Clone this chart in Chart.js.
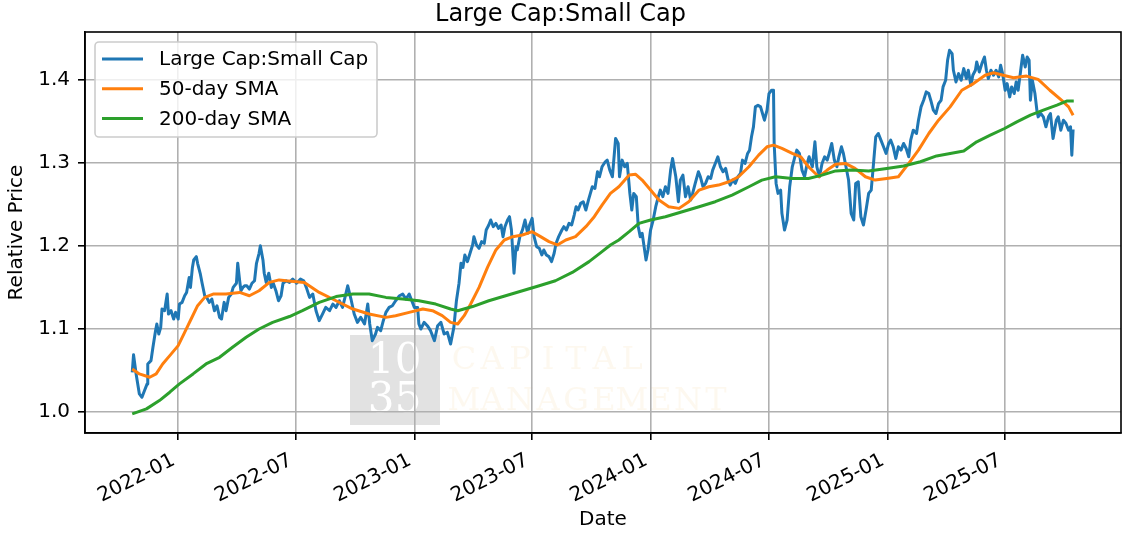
<!DOCTYPE html>
<html lang="en">
<head>
    <meta charset="UTF-8">
    <title>Large Cap:Small Cap</title>
    <script src="https://cdn.jsdelivr.net/npm/chart.js"></script>
    <style>
        body { margin: 0; background: #fff; }
        #wrap { width: 1130px; height: 536px; }
    </style>
</head>
<body>
    <div id="wrap">
        <canvas id="myChart" width="1130" height="536"></canvas>
    </div>

    <script>
        // x values are days counted from 2022-01-01
        var priceDays = [-71, -69, -65, -60, -56, -52, -48, -47, -42, -39, -35, -33, -30, -27, -25, -21, -17, -15, -11, -7, -4,
            0, 2, 6, 10, 13, 17, 19, 22, 24, 28, 30, 34, 37, 41, 44, 48, 52, 56, 60, 64, 67, 71, 74, 78, 82, 85, 90, 92, 95, 97,
            100, 103, 106, 110, 114, 118, 121, 125, 127, 131, 133, 136, 140, 144, 147, 151, 155, 159, 162, 167, 172, 177, 183,
            189, 194, 198, 203, 208, 213, 218, 223, 228, 234, 239, 244, 249, 254, 259, 262, 267, 272, 277, 282, 288, 293, 296,
            300, 305, 308, 313, 317, 321, 326, 331, 336, 342, 347, 352, 357, 361, 365, 370, 372, 375, 380, 385, 390, 396, 401,
            406, 411, 416, 421, 426, 430, 434, 437, 440, 443, 447, 451, 455, 457, 461, 465, 469, 473, 476, 480, 483, 487, 491,
            495, 499, 502, 505, 509, 512, 515, 519, 522, 524, 528, 532, 536, 540, 543, 547, 550, 554, 558, 562, 565, 569, 573,
            577, 581, 584, 588, 593, 596, 600, 604, 608, 612, 615, 618, 622, 626, 630, 634, 637, 640, 644, 648, 651, 655, 660,
            663, 667, 671, 676, 680, 682, 686, 690, 694, 698, 701, 704, 708, 711, 714, 717, 720, 723, 726, 730, 734, 738, 742,
            745, 749, 753, 757, 761, 764, 769, 773, 776, 780, 784, 788, 792, 795, 799, 804, 807, 811, 815, 819, 823, 826, 830,
            834, 838, 842, 846, 850, 853, 857, 861, 865, 869, 872, 876, 880, 883, 886, 889, 892, 896, 900, 903, 906, 910, 913,
            917, 920, 921, 924, 927, 931, 933, 937, 941, 945, 949, 953, 956, 960, 964, 968, 972, 975, 980, 984, 987, 991, 995,
            999, 1003, 1006, 1010, 1014, 1018, 1021, 1025, 1028, 1032, 1036, 1040, 1044, 1047, 1051, 1055, 1059, 1063, 1067,
            1071, 1075, 1078, 1082, 1086, 1090, 1094, 1098, 1101, 1105, 1109, 1113, 1117, 1121, 1125, 1129, 1132, 1136, 1141,
            1144, 1148, 1152, 1156, 1160, 1163, 1167, 1171, 1175, 1179, 1182, 1186, 1189, 1192, 1196, 1198, 1202, 1206, 1210,
            1214, 1218, 1221, 1225, 1228, 1232, 1234, 1238, 1242, 1246, 1249, 1252, 1256, 1260, 1264, 1268, 1271, 1274, 1278,
            1281, 1285, 1288, 1292, 1295, 1298, 1302, 1305, 1309, 1312, 1315, 1317, 1320, 1324, 1327, 1329, 1333, 1337, 1341,
            1345, 1348, 1352, 1357, 1360, 1364, 1368, 1372, 1376, 1379, 1381, 1383];

        var priceRatio = [1.048, 1.069, 1.046, 1.022, 1.018, 1.026, 1.034, 1.058, 1.062, 1.078, 1.098, 1.106, 1.094, 1.102, 1.124, 1.122, 1.142, 1.118, 1.122, 1.112, 1.120,
            1.112, 1.130, 1.132, 1.140, 1.144, 1.162, 1.150, 1.174, 1.183, 1.187, 1.179, 1.167, 1.155, 1.140, 1.138, 1.132, 1.136, 1.122, 1.128, 1.114, 1.112, 1.132, 1.122, 1.138, 1.142, 1.150, 1.155, 1.179, 1.158, 1.146,
            1.150, 1.152, 1.152, 1.148, 1.155, 1.158, 1.179, 1.191, 1.200, 1.183, 1.167, 1.156, 1.167, 1.150, 1.155, 1.146, 1.134, 1.140, 1.155, 1.158, 1.156, 1.160, 1.155,
            1.160, 1.158, 1.150, 1.138, 1.142, 1.122, 1.110, 1.118, 1.126, 1.122, 1.130, 1.126, 1.134, 1.126, 1.142, 1.152, 1.136, 1.118, 1.108, 1.114, 1.106, 1.130, 1.106,
            1.086, 1.094, 1.102, 1.098, 1.110, 1.120, 1.126, 1.128, 1.134, 1.140, 1.142, 1.136, 1.142, 1.134, 1.126, 1.126, 1.106, 1.100, 1.108, 1.104, 1.098, 1.086, 1.104,
            1.108, 1.094, 1.096, 1.082, 1.102, 1.134, 1.155, 1.179, 1.174, 1.189, 1.181, 1.191, 1.201, 1.211, 1.201, 1.197, 1.205, 1.203, 1.219, 1.225, 1.231, 1.223, 1.227,
            1.221, 1.225, 1.211, 1.223, 1.231, 1.235, 1.219, 1.167, 1.199, 1.195, 1.211, 1.219, 1.231, 1.215, 1.225, 1.233, 1.211, 1.199, 1.197, 1.189, 1.195, 1.189, 1.187,
            1.181, 1.191, 1.203, 1.211, 1.219, 1.223, 1.219, 1.227, 1.225, 1.237, 1.247, 1.243, 1.251, 1.253, 1.243, 1.255, 1.263, 1.271, 1.269, 1.289, 1.283, 1.295, 1.301,
            1.303, 1.291, 1.283, 1.329, 1.323, 1.283, 1.303, 1.295, 1.299, 1.263, 1.243, 1.263, 1.259, 1.223, 1.211, 1.215, 1.199, 1.183, 1.195, 1.219, 1.231, 1.247, 1.259,
            1.267, 1.259, 1.271, 1.263, 1.291, 1.305, 1.283, 1.253, 1.279, 1.285, 1.259, 1.271, 1.255, 1.263, 1.275, 1.289, 1.283, 1.271, 1.275, 1.283, 1.281, 1.291, 1.299,
            1.307, 1.295, 1.289, 1.293, 1.279, 1.273, 1.279, 1.275, 1.283, 1.287, 1.303, 1.299, 1.311, 1.315, 1.331, 1.343, 1.367, 1.369, 1.367, 1.359, 1.351, 1.363, 1.383,
            1.387, 1.387, 1.323, 1.275, 1.263, 1.267, 1.239, 1.219, 1.231, 1.271, 1.295, 1.307, 1.315, 1.311, 1.291, 1.283, 1.299, 1.307, 1.295, 1.325, 1.295, 1.283, 1.299,
            1.307, 1.303, 1.311, 1.323, 1.303, 1.295, 1.307, 1.319, 1.311, 1.295, 1.279, 1.239, 1.231, 1.275, 1.277, 1.235, 1.225, 1.243, 1.263,
            1.267, 1.303, 1.331, 1.335, 1.327, 1.319, 1.311, 1.323, 1.327, 1.319, 1.305, 1.319, 1.315, 1.323, 1.317, 1.307, 1.327, 1.339, 1.335,
            1.351, 1.367, 1.375, 1.385, 1.383, 1.375, 1.363, 1.359, 1.371, 1.375, 1.391, 1.399, 1.423, 1.435, 1.431, 1.411, 1.397, 1.407, 1.399,
            1.413, 1.401, 1.411, 1.393, 1.405, 1.411, 1.421, 1.409, 1.419, 1.427, 1.411, 1.401, 1.411, 1.405, 1.411, 1.403, 1.417, 1.407, 1.387,
            1.395, 1.379, 1.391, 1.383, 1.397, 1.387, 1.411, 1.429, 1.415, 1.427, 1.423, 1.375, 1.399, 1.383, 1.363, 1.355, 1.359, 1.355, 1.343,
            1.355, 1.359, 1.329, 1.351, 1.355, 1.339, 1.351, 1.347, 1.339, 1.343, 1.309, 1.340];

        var sma50Days = [-71, -60, -44, -34, -24, -13, 0, 10, 20, 30, 41, 54, 74, 95, 110, 125, 141, 156, 167, 195, 218, 244, 270,
            295, 321, 336, 357, 378, 393, 408, 421, 432, 442, 452, 465, 478, 491, 504, 517, 532, 547, 560, 573, 586, 599, 614,
            630, 643, 655, 668, 681, 697, 707, 717, 730, 743, 758, 774, 789, 805, 820, 835, 851, 866, 882, 897, 910, 920, 933,
            949, 962, 974, 990, 1003, 1016, 1031, 1046, 1062, 1077, 1095, 1113, 1129, 1144, 1160, 1175, 1193, 1211, 1229, 1247,
            1260, 1275, 1291, 1311, 1329, 1347, 1365, 1376, 1383];
        var sma50 = [1.052, 1.046, 1.042, 1.046, 1.058, 1.068, 1.080, 1.096, 1.112, 1.128, 1.138, 1.142, 1.142, 1.144, 1.140, 1.146, 1.156, 1.159, 1.158, 1.156, 1.144, 1.134, 1.124,
            1.118, 1.114, 1.116, 1.120, 1.124, 1.122, 1.116, 1.108, 1.106, 1.116, 1.130, 1.150, 1.174, 1.195, 1.207, 1.211, 1.213, 1.217, 1.211, 1.205, 1.201, 1.207, 1.211,
            1.223, 1.235, 1.249, 1.263, 1.271, 1.285, 1.286, 1.279, 1.267, 1.255, 1.247, 1.245, 1.253, 1.267, 1.271, 1.273, 1.277, 1.283, 1.295, 1.309, 1.319, 1.321, 1.317,
            1.311, 1.307, 1.295, 1.283, 1.291, 1.298, 1.299, 1.293, 1.283, 1.279, 1.281, 1.283, 1.299, 1.315, 1.335, 1.351, 1.367, 1.387, 1.395, 1.405,
            1.408, 1.405, 1.402, 1.404, 1.400, 1.387, 1.375, 1.367, 1.357];

        var sma200Days = [-71, -49, -29, -13, 2, 23, 43, 64, 84, 105, 125, 146, 172, 192, 218, 244, 270, 295, 321, 347, 372, 398,
            421, 432, 455, 480, 506, 532, 558, 583, 609, 635, 655, 668, 681, 697, 712, 730, 753, 779, 805, 830, 856, 882, 902,
            923, 949, 974, 995, 1016, 1041, 1067, 1095, 1121, 1147, 1172, 1193, 1214, 1234, 1255, 1277, 1296, 1317, 1337, 1358,
            1373, 1384];
        var sma200 = [0.998, 1.004, 1.014, 1.024, 1.034, 1.046, 1.058, 1.066, 1.078, 1.090, 1.100, 1.108, 1.115, 1.122, 1.132, 1.139, 1.142, 1.142, 1.138, 1.136, 1.134, 1.130,
            1.124, 1.122, 1.127, 1.134, 1.140, 1.146, 1.152, 1.158, 1.168, 1.181, 1.193, 1.201, 1.207, 1.217, 1.227, 1.231, 1.235, 1.241, 1.247, 1.253, 1.261, 1.271, 1.279,
            1.283, 1.281, 1.281, 1.285, 1.290, 1.291, 1.290, 1.293, 1.296, 1.301, 1.308, 1.311, 1.314, 1.325, 1.333, 1.341, 1.349, 1.357, 1.363, 1.369,
            1.374, 1.374];

        var tickDays = [0, 181, 365, 546, 730, 912, 1096, 1277];
        var tickLabels = ['2022-01', '2022-07', '2023-01', '2023-07', '2024-01', '2024-07', '2025-01', '2025-07'];
        var yTicks = [1.0, 1.1, 1.2, 1.3, 1.4];

        var font = '"DejaVu Sans", sans-serif';

        function toPoints(xs, ys) {
            return xs.map(function (x, i) { return { x: x, y: ys[i] }; });
        }

        // faint logo behind the plot
        var watermark = {
            id: 'watermark',
            beforeDraw: function (chart) {
                var ctx = chart.ctx;
                ctx.save();
                ctx.fillStyle = '#e2e2e2';
                ctx.fillRect(350, 335, 90, 90);
                ctx.fillStyle = '#ffffff';
                ctx.font = '42px "DejaVu Serif", serif';
                ctx.textAlign = 'center';
                ctx.textBaseline = 'middle';
                ['1', '0'].forEach(function (c, i) { ctx.fillText(c, 381 + i * 27, 362); });
                ['3', '5'].forEach(function (c, i) { ctx.fillText(c, 381 + i * 27, 401); });
                ctx.fillStyle = 'rgba(240, 200, 130, 0.13)';
                ctx.font = '32px "DejaVu Serif", serif';
                'CAPITAL'.split('').forEach(function (c, i) { ctx.fillText(c, 464 + i * 28, 361); });
                'MANAGEMENT'.split('').forEach(function (c, i) { ctx.fillText(c, 464 + i * 28, 402); });
                ctx.restore();
            }
        };

        // matplotlib-style frame, date labels and legend
        var frameAndLegend = {
            id: 'frameAndLegend',
            afterDatasetsDraw: function (chart) {
                var ctx = chart.ctx;
                var a = chart.chartArea;
                ctx.save();
                ctx.strokeStyle = '#000';
                ctx.lineWidth = 1.6;
                ctx.strokeRect(a.left, a.top, a.right - a.left, a.bottom - a.top);

                ctx.beginPath();
                ctx.roundRect(95, 42, 282, 95, 4);
                ctx.fillStyle = 'rgba(255,255,255,0.8)';
                ctx.fill();
                ctx.strokeStyle = '#cccccc';
                ctx.lineWidth = 1.6;
                ctx.stroke();

                ctx.font = '20px ' + font;
                ctx.textBaseline = 'middle';
                chart.data.datasets.forEach(function (ds, i) {
                    var y = 59 + i * 29.7;
                    ctx.strokeStyle = ds.borderColor;
                    ctx.lineWidth = 3;
                    ctx.beginPath();
                    ctx.moveTo(102, y);
                    ctx.lineTo(143, y);
                    ctx.stroke();
                    ctx.fillStyle = '#000';
                    ctx.fillText(ds.label, 159, y + 1);
                });
                ctx.restore();
            },
            afterDraw: function (chart) {
                // rotated date labels, right end tucked under each tick
                var ctx = chart.ctx;
                var xs = chart.scales.x;
                ctx.save();
                ctx.font = '20px ' + font;
                ctx.fillStyle = '#000';
                ctx.textAlign = 'right';
                ctx.textBaseline = 'alphabetic';
                tickDays.forEach(function (d, i) {
                    ctx.save();
                    ctx.translate(xs.getPixelForValue(d) - 2, 464);
                    ctx.rotate(-27 * Math.PI / 180);
                    ctx.fillText(tickLabels[i], 0, 0);
                    ctx.restore();
                });
                ctx.restore();
            }
        };

        var ctx = document.getElementById('myChart').getContext('2d');

        var myChart = new Chart(ctx, {
            type: 'line',
            data: {
                datasets: [{
                    label: 'Large Cap:Small Cap',
                    data: toPoints(priceDays, priceRatio),
                    borderColor: '#1f77b4',
                    borderWidth: 3,
                    order: 2
                }, {
                    label: '50-day SMA',
                    data: toPoints(sma50Days, sma50),
                    borderColor: '#ff7f0e',
                    borderWidth: 3,
                    order: 1
                }, {
                    label: '200-day SMA',
                    data: toPoints(sma200Days, sma200),
                    borderColor: '#2ca02c',
                    borderWidth: 3,
                    order: 0
                }]
            },
            options: {
                responsive: false,
                animation: false,
                events: [],
                elements: {
                    point: { radius: 0 },
                    line: { tension: 0, fill: false, borderJoinStyle: 'round' }
                },
                layout: { padding: { left: 0, right: 9, top: 0, bottom: 0 } },
                plugins: {
                    legend: { display: false },
                    tooltip: { enabled: false },
                    title: {
                        display: true,
                        text: 'Large Cap:Small Cap',
                        color: '#000',
                        font: { family: font, size: 24, weight: 'normal' },
                        padding: { top: 0, bottom: 3.2 }
                    }
                },
                scales: {
                    x: {
                        type: 'linear',
                        min: -144,
                        max: 1457,
                        afterBuildTicks: function (scale) {
                            scale.ticks = tickDays.map(function (d) { return { value: d }; });
                        },
                        afterFit: function (scale) { scale.height = 103; },
                        ticks: {
                            autoSkip: false,
                            maxRotation: 30,
                            minRotation: 30,
                            color: 'rgba(0,0,0,0)',
                            font: { family: font, size: 20 },
                            callback: function (value) { return tickLabels[tickDays.indexOf(value)]; }
                        },
                        grid: {
                            color: '#b0b0b0',
                            lineWidth: 1.6,
                            tickColor: '#000',
                            tickLength: 7,
                            tickWidth: 1.6
                        },
                        border: { color: '#000', width: 1.6 },
                        title: {
                            display: true,
                            text: 'Date',
                            color: '#000',
                            font: { family: font, size: 20 },
                            padding: { top: 0, bottom: 4 }
                        }
                    },
                    y: {
                        min: 0.975,
                        max: 1.457,
                        afterBuildTicks: function (scale) {
                            scale.ticks = yTicks.map(function (v) { return { value: v }; });
                        },
                        afterFit: function (scale) { scale.width = 85; },
                        ticks: {
                            padding: 8,
                            color: '#000',
                            font: { family: font, size: 20 },
                            callback: function (value) { return value.toFixed(1); }
                        },
                        grid: {
                            color: '#b0b0b0',
                            lineWidth: 1.6,
                            tickColor: '#000',
                            tickLength: 7,
                            tickWidth: 1.6
                        },
                        border: { color: '#000', width: 1.6 },
                        title: {
                            display: true,
                            text: 'Relative Price',
                            color: '#000',
                            font: { family: font, size: 20 },
                            padding: { top: 5, bottom: 0 }
                        }
                    }
                }
            },
            plugins: [watermark, frameAndLegend]
        });
    </script>
</body>
</html>
